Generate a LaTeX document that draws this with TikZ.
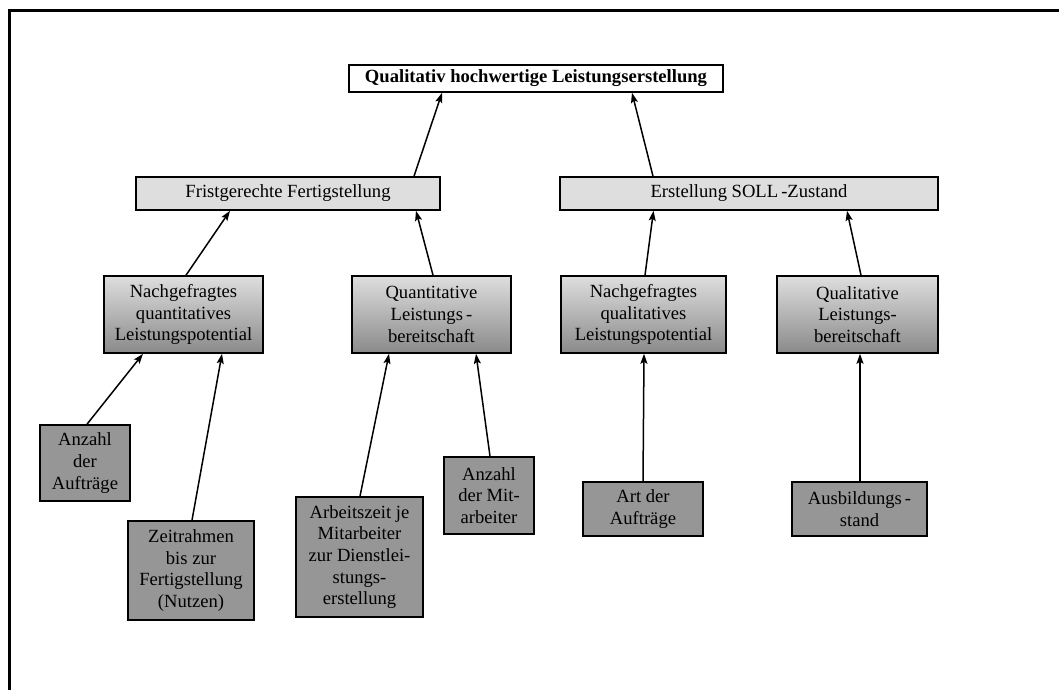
\documentclass[tikz,border=0pt]{standalone}
\usepackage{fontspec}
\setmainfont{Liberation Serif}
\usetikzlibrary{arrows.meta}

\definecolor{paleGray}{HTML}{DEDEDE}
\definecolor{shadeGray}{HTML}{8A8A8A}
\definecolor{leafGray}{HTML}{969696}

\begin{document}
\begin{tikzpicture}[x=1pt,y=-1pt,
  box/.style={draw, line width=1.6pt, inner sep=0pt, align=center,
    font=\fontsize{18.6}{21.7}\selectfont},
  goalbox/.style={box, fill=white, font=\bfseries\fontsize{18.6}{21.7}\selectfont},
  aimbox/.style={box, fill=paleGray},
  factorbox/.style={box, top color=paleGray, bottom color=shadeGray},
  leafbox/.style={box, fill=leafGray},
  link/.style={-{Stealth[length=10pt,width=7pt,inset=2pt]}, line width=1.5pt}
]
\useasboundingbox (0,0) rectangle (1059,690);

% frame
\draw[line width=3pt] (9.5,690) -- (9.5,10.5) -- (1059,10.5);

% top goal
\node[goalbox, minimum width=374pt, minimum height=27pt] (goal) at (536,78.5)
  {Qualitativ hochwertige Leistungserstellung};

% sub-goals
\node[aimbox, minimum width=304pt, minimum height=33pt] (fft) at (288,193.5)
  {Fristgerechte Fertigstellung};
\node[aimbox, minimum width=378pt, minimum height=33pt] (soll) at (749,193.5)
  {Erstellung SOLL\,-Zustand};

% factors
\node[factorbox, minimum width=159pt, minimum height=77pt] (nq) at (183.5,314.5)
  {Nachgefragtes\\quantitatives\\Leistungspotential};
\node[factorbox, minimum width=159pt, minimum height=77pt] (qb) at (431.5,314.5)
  {Quantitative\\Leistungs\,-\\bereitschaft};
\node[factorbox, minimum width=165pt, minimum height=77pt] (nql) at (643.5,314.5)
  {Nachgefragtes\\qualitatives\\Leistungspotential};
\node[factorbox, minimum width=161pt, minimum height=77pt] (qlb) at (857.5,314.5)
  {Qualitative\\Leistungs-\\bereitschaft};

% indicators
\node[leafbox, minimum width=90pt, minimum height=76pt] (aa) at (85,463)
  {Anzahl\\der\\Aufträge};
\node[leafbox, minimum width=126pt, minimum height=99pt] (zr) at (191,570.5)
  {Zeitrahmen\\bis zur\\Fertigstellung\\(Nutzen)};
\node[leafbox, minimum width=127pt, minimum height=120pt] (az) at (359.5,557)
  {Arbeitszeit je\\Mitarbeiter\\zur Dienstlei-\\stungs-\\erstellung};
\node[leafbox, minimum width=90pt, minimum height=77pt] (am) at (489,495.5)
  {Anzahl\\der Mit-\\arbeiter};
\node[leafbox, minimum width=120pt, minimum height=54pt] (ada) at (643,509)
  {Art der\\Aufträge};
\node[leafbox, minimum width=135pt, minimum height=54pt] (aus) at (859.5,509)
  {Ausbildungs\,-\\stand};

% connectors
\draw[link] ([xshift=126pt]fft.north) -- ([xshift=-94pt]goal.south);
\draw[link] ([xshift=-96pt]soll.north) -- ([xshift=96pt]goal.south);

\draw[link] ([xshift=2.5pt]nq.north) -- ([xshift=-58pt]fft.south);
\draw[link] ([xshift=1.5pt]qb.north) -- ([xshift=128pt]fft.south);
\draw[link] ([xshift=1.5pt]nql.north) -- ([xshift=-95.5pt]soll.south);
\draw[link] ([xshift=3.5pt]qlb.north) -- ([xshift=98pt]soll.south);

\draw[link] ([xshift=2pt]aa.north) -- ([xshift=-40.5pt]nq.south);
\draw[link] ([xshift=1pt]zr.north) -- ([xshift=38.5pt]nq.south);
\draw[link] ([xshift=0.5pt]az.north) -- ([xshift=-42.5pt]qb.south);
\draw[link] ([xshift=1pt]am.north) -- ([xshift=44.5pt]qb.south);
\draw[link] (ada.north) -- ([xshift=0.5pt]nql.south);
\draw[link] ([xshift=0.5pt]aus.north) -- ([xshift=2.5pt]qlb.south);
\end{tikzpicture}
\end{document}
